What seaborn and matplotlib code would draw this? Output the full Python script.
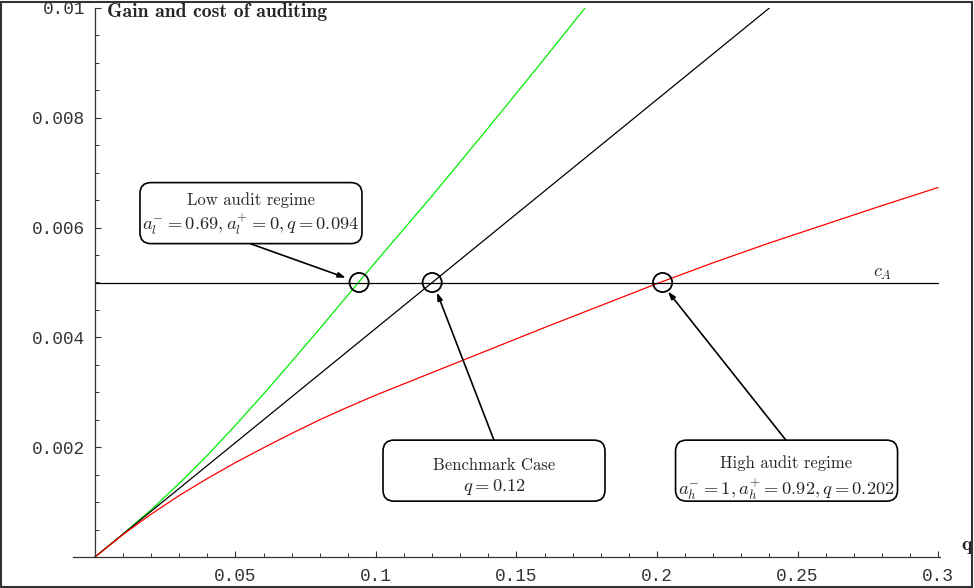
import numpy as np
import pandas as pd
import seaborn as sns
import matplotlib.pyplot as plt
from matplotlib.patches import FancyBboxPatch, Rectangle

# values
q_low = [0, 0.01, 0.02, 0.03, 0.04, 0.05, 0.06, 0.07, 0.08, 0.09, 0.10,
         0.11, 0.12, 0.13, 0.14, 0.15, 0.16, 0.17, 0.1744]
gain_low = [0, 0.00042, 0.00086, 0.00134, 0.00185, 0.00240, 0.00297, 0.00356, 0.00416, 0.00477, 0.00538,
            0.00598, 0.00658, 0.00720, 0.00782, 0.00845, 0.00908, 0.00972, 0.0100]

q_bench = [0, 0.24]
gain_bench = [0, 0.0100]

q_high = [0, 0.01, 0.02, 0.03, 0.04, 0.05, 0.06, 0.07, 0.08, 0.09, 0.10, 0.12, 0.14, 0.16, 0.18,
          0.20, 0.22, 0.24, 0.26, 0.28, 0.30]
gain_high = [0, 0.00041, 0.00078, 0.00112, 0.00143, 0.00172, 0.00199, 0.00225, 0.00250, 0.00273, 0.00295,
             0.00336, 0.00377, 0.00418, 0.00458, 0.00498, 0.00536, 0.00572, 0.00606, 0.00640, 0.00673]

c_A = 0.005
q_cross = [0.094, 0.12, 0.202]

x_ticks = [0.05, 0.1, 0.15, 0.2, 0.25, 0.3]
x_labels = ['0.05', '0.1', '0.15', '0.2', '0.25', '0.3']
y_ticks = [0.002, 0.004, 0.006, 0.008, 0.01]
y_labels = ['0.002', '0.004', '0.006', '0.008', '0.01']

sns.set_style('white')
plt.rcParams['mathtext.fontset'] = 'cm'
plt.rcParams['axes.unicode_minus'] = False

fig = plt.figure(figsize=(9.74, 5.88), dpi=100)
ax = fig.add_axes([73 / 974, 31 / 588, 867 / 974, 549 / 588])
ax.set_facecolor('white')
ax.set_xlim(-0.0078, 0.3007)
ax.set_ylim(0, 0.01)

df_low = pd.DataFrame({'q': q_low, 'gain': gain_low})
df_bench = pd.DataFrame({'q': q_bench, 'gain': gain_bench})
df_high = pd.DataFrame({'q': q_high, 'gain': gain_high})

sns.lineplot(data=df_low, x='q', y='gain', color='#00ee00', lw=0.9, ax=ax, sort=False)
sns.lineplot(data=df_bench, x='q', y='gain', color='black', lw=0.9, ax=ax, sort=False)
sns.lineplot(data=df_high, x='q', y='gain', color='#ff0000', lw=0.9, ax=ax, sort=False)
ax.plot([0, 0.3], [c_A, c_A], color='black', lw=0.9)

ax.scatter(q_cross, [c_A] * len(q_cross), s=190, facecolors='none', edgecolors='black',
           linewidths=1.3, zorder=5)

# axes in Mathematica style
for s in ['top', 'right']:
    ax.spines[s].set_visible(False)
ax.spines['left'].set_position(('data', 0))
ax.spines['left'].set_color('#333333')
ax.spines['bottom'].set_color('#333333')
ax.spines['left'].set_linewidth(0.9)
ax.spines['bottom'].set_linewidth(0.9)

ax.set_xticks(x_ticks)
ax.set_xticklabels(x_labels)
ax.set_yticks(y_ticks)
ax.set_yticklabels(y_labels)
ax.set_xticks(np.arange(0.01, 0.301, 0.01), minor=True)
ax.set_yticks(np.arange(0.0005, 0.01001, 0.0005), minor=True)
ax.tick_params(which='major', direction='in', length=4, width=0.8, color='#333333',
               labelsize=12.8, labelcolor='#333333')
ax.tick_params(which='minor', direction='in', length=2.8, width=0.7, color='#333333')
ax.tick_params(axis='x', which='both', bottom=True, pad=8)
ax.tick_params(axis='y', which='both', left=True, pad=7)
for lab in ax.get_xticklabels() + ax.get_yticklabels():
    lab.set_fontfamily('Liberation Mono')
ax.set_xlabel('')
ax.set_ylabel('')

ax.text(0.0043, 0.00993, 'Gain and cost of auditing', fontfamily='cmb10', fontsize=14.2,
        ha='left', va='center', clip_on=False)
ax.text(0.3103, 0.00022, 'q', fontfamily='cmb10', fontsize=14, ha='center', va='center',
        clip_on=False)
ax.text(0.2801, 0.00518, r'$c_A$', fontsize=13, ha='center', va='center')

# annotation boxes
boxes = [
    ((0.05552, 0.006264), 'Low audit regime', r'$a_l^{-}=0.69, a_l^{+}=0, q=0.094$', 0.00023, 0.00021),
    ((0.1420, 0.001573), 'Benchmark Case', r'$q=0.12$', 0.00010, 0.00030),
    ((0.2461, 0.001573), 'High audit regime', r'$a_h^{-}=1, a_h^{+}=0.92, q=0.202$', 0.00014, 0.00034),
]
for (cx, cy), line1, line2, d1, d2 in boxes:
    px, py = ax.transData.transform((cx, cy))
    w, h = 222, 61
    box = FancyBboxPatch(((px - w / 2) / 100, (py - h / 2) / 100), w / 100, h / 100,
                         boxstyle='round,pad=0,rounding_size=0.11',
                         transform=fig.dpi_scale_trans, facecolor='white',
                         edgecolor='black', lw=1.2, zorder=6)
    ax.add_patch(box)
    ax.text(cx, cy + d1, line1, fontfamily='cmr10', fontsize=12, ha='center', va='center', zorder=7)
    ax.text(cx, cy - d2, line2, fontsize=13.3, ha='center', va='center', zorder=7)

arrows = [
    ((0.0552, 0.005709), (0.0893, 0.005085)),
    ((0.1420, 0.002127), (0.1217, 0.004818)),
    ((0.2459, 0.002127), (0.2039, 0.004836)),
]
for start, end in arrows:
    ax.annotate('', xy=end, xytext=start,
                arrowprops=dict(arrowstyle='-|>,head_length=0.45,head_width=0.15',
                                color='black', lw=1.2, shrinkA=0, shrinkB=0))

fig.patches.append(Rectangle((0.001, 0.002), 0.997, 0.995, transform=fig.transFigure,
                             fill=False, edgecolor='#333333', lw=1.5))

fig.savefig('out.png', dpi=100)
